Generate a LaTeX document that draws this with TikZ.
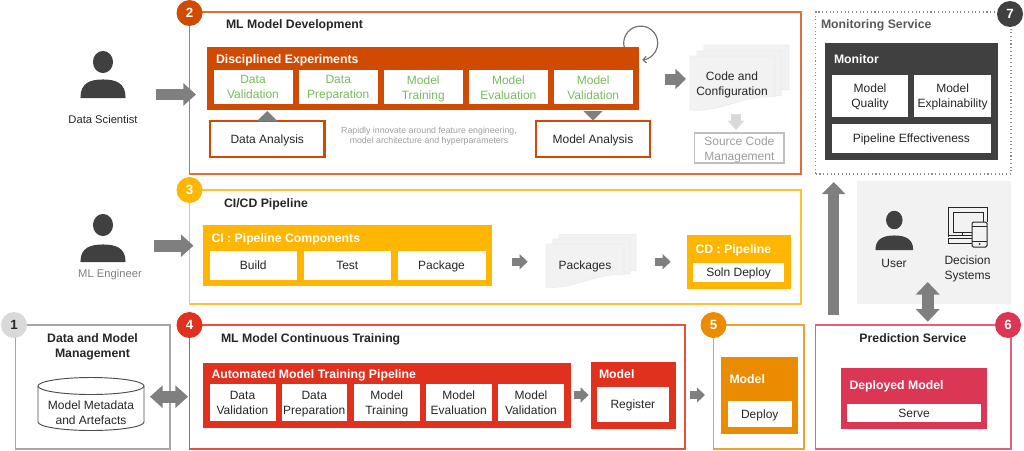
\documentclass[tikz,border=0pt]{standalone}
\usepackage{fontspec}
\setmainfont{Liberation Sans}
\usetikzlibrary{arrows.meta,calc}
\definecolor{cO}{HTML}{D04A02}\definecolor{cOl}{HTML}{DE6F35}
\definecolor{cY}{HTML}{FFB600}\definecolor{cYl}{HTML}{FFC232}
\definecolor{cR}{HTML}{E0301E}\definecolor{cRl}{HTML}{E8503F}
\definecolor{cA}{HTML}{EB8C00}\definecolor{cAl}{HTML}{F0A030}
\definecolor{cP}{HTML}{DB3654}\definecolor{cPl}{HTML}{E4617A}
\definecolor{cD}{HTML}{404040}\definecolor{cG}{HTML}{7F7F7F}
\definecolor{cT}{HTML}{262626}\definecolor{cGreen}{HTML}{78BB5E}
\newcommand{\tstrut}{\rule[-2.5pt]{0pt}{11.5pt}}
\tikzset{
 x=0.75pt,y=-0.75pt,
 txt/.style={font=\fontsize{9}{11.25}\selectfont,text=cT,align=center,inner sep=0pt,outer sep=0pt,
   execute at begin node=\tstrut,execute at end node=\tstrut},
 two/.style={yshift=-1.5pt},
 ttl/.style={txt,font=\bfseries\fontsize{9.2}{11.25}\selectfont,text=black!85},
 hdr/.style={ttl,text=white,anchor=west},
 plate/.style={draw=none,inner sep=0pt,outer sep=0pt},
 cell/.style={fill=white,txt},
 gcell/.style={txt,text=cGreen},
 panel/.style={draw=#1,line width=1.1pt,inner sep=0pt,outer sep=0pt},
 badge/.style={circle,fill=#1,minimum size=19.5pt,inner sep=0pt,outer sep=0pt,text=white,font=\bfseries\fontsize{10}{12}\selectfont},
 blk/.style={draw=cG,line width=#1*0.75pt,line cap=butt},
 page/.style={fill=black!5,draw=black!8,line width=0.5pt},
 dude/.style={fill=cD,draw=cD,line width=0.8pt,line join=round},
}
% \mybox[style]{name}{x1}{y1}{x2}{y2}{text}
\newcommand{\mybox}[7][]{%
 \pgfmathsetmacro{\mbx}{(#3+#5)/2}\pgfmathsetmacro{\mby}{(#4+#6)/2}%
 \pgfmathsetmacro{\mbw}{(#5-#3)*0.75}\pgfmathsetmacro{\mbh}{(#6-#4)*0.75}%
 \node[#1,minimum width=\mbw pt,minimum height=\mbh pt] (#2) at (\mbx,\mby) {#7};}
% two-line cell: white box, with its text set slightly lower
\newcommand{\twobox}[7][]{%
 \pgfmathsetmacro{\mbx}{(#3+#5)/2}\pgfmathsetmacro{\mby}{(#4+#6)/2}%
 \pgfmathsetmacro{\mbw}{(#5-#3)*0.75}\pgfmathsetmacro{\mbh}{(#6-#4)*0.75}%
 \node[fill=white,draw=none,inner sep=0pt,outer sep=0pt,minimum width=\mbw pt,minimum height=\mbh pt] (#2) at (\mbx,\mby) {};
 \node[txt,two,#1] (#2t) at (\mbx,\mby) {#7};}
% \person{name}{cx}{head cy}{head rx}{head ry}{body half width}{body top}{body bottom}
\newcommand{\person}[8]{%
 \coordinate (#1) at (#2,#3);
 \path[dude] (#2,#3) ellipse [x radius=#4,y radius=#5];
 \path[dude] ({#2-#6},#8) .. controls ({#2-#6},{#7+3}) and ({#2-0.55*#6},#7) .. (#2,#7)
   .. controls ({#2+0.55*#6},#7) and ({#2+#6},{#7+3}) .. ({#2+#6},#8) -- cycle;}
% \docpage{x1}{y1}{x2}{right bottom}{left bottom}
\newcommand{\docpage}[5]{%
 \path[page] (#1,#2) -- (#3,#2) -- (#3,#4)
  .. controls ({#1+0.65*(#3-#1)},{#4-3}) and ({#1+0.35*(#3-#1)},{#5+3}) .. (#1,#5) -- cycle;}
\begin{document}
\begin{tikzpicture}
\useasboundingbox (0,0) rectangle (1024,450);
% --- panels
\mybox[panel=cOl]{p2}{189.5}{12}{801}{174}{}
\mybox[panel=cYl]{p3}{189.5}{190}{801}{304}{}
\mybox[panel=cRl]{p4}{189.5}{325}{685}{449}{}
\mybox[panel=black!35]{p1}{15.5}{325}{170}{449}{}
\mybox[panel=cAl]{p5}{713.7}{325}{804}{449}{}
\mybox[panel=cPl]{p6}{815.7}{325}{1011}{449}{}
\mybox[draw=black!45,dotted,line width=0.8pt,inner sep=0pt]{p7}{815.7}{12}{1011}{174}{}
\mybox[fill=black!5,plate]{pu}{857}{181}{1011}{304}{}
% --- badges
\node[badge=cO] (b2) at (189.5,13) {2};
\node[badge=cY] (b3) at (189.5,190) {3};
\node[badge=cR] (b4) at (189.5,325) {4};
\node[badge=black!15,text=cT] (b1) at (14,325) {1};
\node[badge=cA] (b5) at (713.5,325) {5};
\node[badge=cP] (b6) at (1008,325) {6};
\node[badge=cD] (b7) at (1010,14) {7};
% --- titles
\node[ttl,anchor=west] (t2) at (226,24.5) {ML Model Development};
\node[ttl,anchor=west] (t3) at (224,203) {CI/CD Pipeline};
\node[ttl,anchor=west] (t4) at (221,338) {ML Model Continuous Training};
\node[ttl,two] (t1) at (92.5,345.5) {Data and Model\\Management};
\node[ttl] (t6) at (913,338) {Prediction Service};
\node[ttl,anchor=west,text=black!65] (t7) at (821,24.5) {Monitoring Service};
% --- panel 2
\mybox[plate,fill=cO]{de}{207}{47}{639}{110}{}
\node[hdr] (deh) at (216,59) {Disciplined Experiments};
\twobox[gcell]{d1}{213.5}{70}{292.5}{104}{Data\\Validation}
\twobox[gcell]{d2}{299}{70}{377.5}{104}{Data\\Preparation}
\twobox[gcell]{d3}{384}{70}{462.5}{104}{Model\\Training}
\twobox[gcell]{d4}{469}{70}{547.7}{104}{Model\\Evaluation}
\twobox[gcell]{d5}{553.7}{70}{632.7}{104}{Model\\Validation}
\mybox[cell,draw=cO,line width=2.1pt]{da}{210}{121}{324.5}{157}{Data Analysis}
\mybox[cell,draw=cO,line width=2.1pt]{ma}{536}{121}{650}{157}{Model Analysis}
\node[txt,two,font=\fontsize{6.6}{7.9}\selectfont,text=black!38] (rap) at (429,135) {Rapidly innovate around feature engineering,\\model architecture and hyperparameters};
\draw[cG,line width=0.1pt,-{Triangle[length=7.5pt,width=15pt]}] (da.north) -- ++(0,-10);
\draw[cG,line width=0.1pt,-{Triangle[length=7pt,width=14pt]}] ($(ma.north)+(0,-10)$) -- ++(0,9.5);
\coordinate (lpc) at (640.7,43);
\draw[draw=cG!90!black,line width=0.9pt,-{Straight Barb[length=2.5pt,width=5pt]}] (624.3,47.5) arc [start angle=165,end angle=445,radius=17];
\coordinate (dsa) at (156,94.5); \coordinate (dsb) at (196,94.5);
\draw[blk=11,-{Triangle[length=9.5pt,width=16.5pt]}] (dsa) -- (dsb);
\person{ds}{103}{62}{9.5}{10.5}{22}{80}{97.5}
\node[txt,font=\fontsize{8.4}{10}\selectfont] (dst) at (103,119) {Data Scientist};
\coordinate (cca) at (665,79); \coordinate (ccb) at (686,79);
\draw[blk=11,-{Triangle[length=8pt,width=15pt]}] (cca) -- (ccb);
\docpage{704}{45}{789}{90}{90}
\docpage{697}{51}{781}{96}{96}
\docpage{690}{56}{775}{97}{110}
\node[txt,two] (code) at (732,83.5) {Code and\\Configuration};
\mybox[fill=white,draw=black!25,line width=0.9pt,inner sep=0pt,outer sep=0pt]{scm}{694.7}{133}{784}{163}{}
\node[txt,two,text=black!38] (scmt) at (scm) {Source Code\\Management};
\coordinate (sca) at (736,114); \coordinate (scb) at (736,130);
\draw[draw=black!15,line width=7.5pt,-{Triangle[length=7pt,width=12pt]}] (sca) -- (scb);
% --- panel 7
\mybox[plate,fill=cD]{mon}{825}{43}{997.7}{160}{}
\node[hdr] (monh) at (834,59) {Monitor};
\twobox{m1}{831.7}{74.5}{908.3}{117}{Model\\Quality}
\twobox{m2}{914.3}{74.5}{991}{117}{Model\\Explainability}
\mybox[cell]{m3}{831.7}{124}{991}{153}{Pipeline Effectiveness}
% --- panel 3
\mybox[plate,fill=cY]{ci}{203}{225}{492}{286}{}
\node[hdr] (cih) at (211.5,238) {CI : Pipeline Components};
\mybox[cell]{c1}{209.5}{251}{297}{279.5}{Build}
\mybox[cell]{c2}{303.5}{251}{391}{279.5}{Test}
\mybox[cell]{c3}{397.5}{251}{485.5}{279.5}{Package}
\coordinate (mla) at (154,245.7); \coordinate (mlb) at (193.5,245.7);
\draw[blk=12,-{Triangle[length=9.5pt,width=16.5pt]}] (mla) -- (mlb);
\person{ml}{103}{225}{9.5}{10.5}{22}{245}{261.5}
\node[txt,font=\fontsize{8.4}{10}\selectfont,text=cG] (mlt) at (110,273) {ML Engineer};
\coordinate (paa) at (512,261.7); \coordinate (pab) at (527.7,261.7);
\draw[blk=8,-{Triangle[length=6pt,width=11pt]}] (paa) -- (pab);
\docpage{559}{234.5}{636}{271}{271}
\docpage{553}{239}{630}{274}{274}
\docpage{546.3}{244}{624}{275}{287}
\node[txt] (pk) at (585,265) {Packages};
\coordinate (pba) at (654.7,261.7); \coordinate (pbb) at (670.7,261.7);
\draw[blk=8,-{Triangle[length=6pt,width=11pt]}] (pba) -- (pbb);
\mybox[plate,fill=cY]{cd}{686.7}{234.7}{790.7}{288.5}{}
\node[hdr] (cdh) at (695.5,249) {CD : Pipeline};
\mybox[cell]{cds}{693.3}{263}{784}{281.5}{Soln Deploy}
% --- user panel
\coordinate (upa) at (833.7,315); \coordinate (upb) at (833.7,182);
\draw[blk=11.5,-{Triangle[length=9pt,width=17pt]}] (upa) -- (upb);
\person{us}{894.3}{220}{7.7}{8.7}{18.3}{236}{249.5}
\node[txt] (ust) at (894,263) {User};
\node[txt,two] (dst2) at (967.5,267.5) {Decision\\Systems};
\coordinate (ic) at (948,207.5);
\begin{scope}[draw=black!85,line width=0.75pt]
 \draw (948,237) -- (948,207.5) -- (987,207.5) -- (987,222);
 \draw (953,232) -- (953,212) -- (983,212) -- (983,222);
 \draw (953,232) -- (972,232);
 \draw (948,235.5) -- (972,235.5);
 \draw (962,232) -- (962,235.5);
 \draw (948,238) rectangle (972,243);
 \draw[fill=black!5,rounded corners=1pt] (972,222) rectangle (987,247);
 \draw (972,226) -- (987,226) (972,241) -- (987,241);
\end{scope}
\fill[black!85] (979.5,244) circle [radius=1];
\coordinate (uda) at (927.7,282); \coordinate (udb) at (927.7,321.7);
\draw[blk=12,{Triangle[length=9.5pt,width=17.5pt]}-{Triangle[length=9.5pt,width=17.5pt]}] (uda) -- (udb);
% --- panel 1
\draw[draw=black!70,line width=0.7pt,fill=white] (38,386) -- (38,422) arc [start angle=180,end angle=0,x radius=53,y radius=8.5] -- (144,386);
\draw[draw=black!70,line width=0.7pt,fill=white] (91,386) ellipse [x radius=53,y radius=8.5];
\node[txt,two] (cyl) at (91,412.5) {Model Metadata\\and Artefacts};
\coordinate (h1) at (150,396.7); \coordinate (h2) at (188,396.7);
\draw[blk=12,{Triangle[length=9.5pt,width=16.5pt]}-{Triangle[length=9.5pt,width=16.5pt]}] (h1) -- (h2);
% --- panel 4
\mybox[plate,fill=cR]{at}{203}{362.7}{570.5}{427.5}{}
\node[hdr] (ath) at (211.5,374) {Automated Model Training Pipeline};
\twobox{a1}{209.5}{384}{275.5}{421}{Data\\Validation}
\twobox{a2}{281.5}{384}{347}{421}{Data\\Preparation}
\twobox{a3}{354}{384}{419.5}{421}{Model\\Training}
\twobox{a4}{426}{384}{491.5}{421}{Model\\Evaluation}
\twobox{a5}{498}{384}{564}{421}{Model\\Validation}
\coordinate (ra) at (573.7,395); \coordinate (rb) at (588.7,395);
\draw[blk=8,-{Triangle[length=6pt,width=11pt]}] (ra) -- (rb);
\mybox[plate,fill=cR]{mr}{590.5}{362}{675.5}{428.5}{}
\node[hdr] (mrh) at (599,374.5) {Model};
\mybox[cell]{reg}{597}{386.7}{668.7}{421.7}{Register}
\coordinate (sa) at (690,395); \coordinate (sb) at (705,395);
\draw[blk=8,-{Triangle[length=6pt,width=11pt]}] (sa) -- (sb);
% --- panel 5
\mybox[plate,fill=cA]{md}{721}{356.7}{798}{433.7}{}
\node[hdr] (mdh) at (729.5,379) {Model};
\mybox[cell]{dep}{728}{401}{791.5}{427}{Deploy}
% --- panel 6
\mybox[plate,fill=cP]{dm}{840.7}{368}{987}{429}{}
\node[hdr] (dmh) at (849.5,385.5) {Deployed Model};
\mybox[cell]{srv}{847}{403.7}{981}{422}{Serve}
\end{tikzpicture}
\end{document}
